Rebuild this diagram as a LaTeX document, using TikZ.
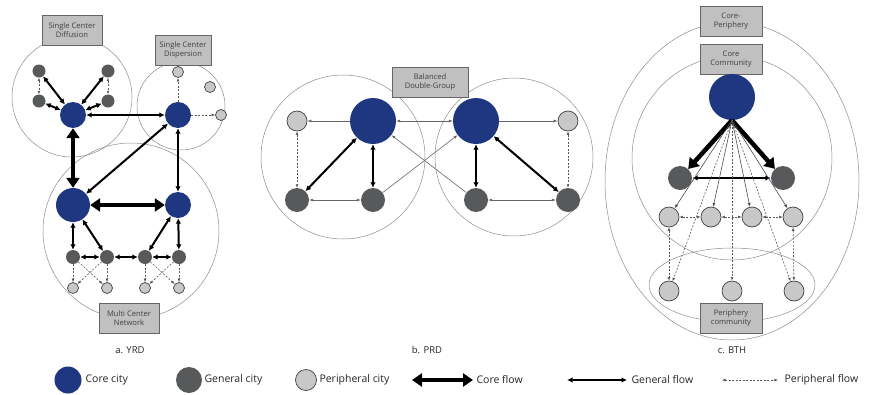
\documentclass[tikz,border=0pt]{standalone}
\usepackage{fontspec}
\setmainfont{Open Sans}
\usetikzlibrary{arrows.meta}
\definecolor{coreblue}{RGB}{31,55,128}
\definecolor{gencol}{RGB}{88,89,91}
\definecolor{percol}{RGB}{200,200,200}
\definecolor{tagcol}{RGB}{192,192,192}
\tikzset{
 core/.style={circle,fill=coreblue,inner sep=0pt,minimum size=#1},
 gen/.style={circle,fill=gencol,inner sep=0pt,minimum size=#1},
 per/.style={circle,fill=percol,draw=black!75,line width=0.7pt,inner sep=0pt,minimum size=#1},
 group/.style={draw=black!45,line width=0.5pt},
 tag/.style={draw=black!60,fill=tagcol,line width=0.7pt,text=black!75,align=center,
   font=\fontsize{7.6}{9.5}\selectfont,minimum width=#1,minimum height=30pt,inner sep=1pt},
 tag/.default=60pt,
 coreflow/.style={line width=4.5pt,{Triangle[length=10pt,width=13pt]}-{Triangle[length=10pt,width=13pt]}},
 coreto/.style={line width=4.5pt,-{Triangle[length=10pt,width=13pt]}},
 genflow/.style={line width=2pt,{Latex[length=5.5pt,width=5.5pt]}-{Latex[length=5.5pt,width=5.5pt]}},
 thinflow/.style={line width=0.6pt,draw=black!60,{Latex[length=4pt,width=3pt]}-{Latex[length=4pt,width=3pt]}},
 thinto/.style={line width=0.6pt,draw=black!60,-{Latex[length=4pt,width=3pt]}},
 perflow/.style={line width=0.6pt,draw=black!65,dash pattern=on 2pt off 1.5pt,
   {Latex[length=3.5pt,width=2.8pt]}-{Latex[length=3.5pt,width=2.8pt]}},
 perto/.style={line width=0.6pt,draw=black!65,dash pattern=on 2pt off 1.5pt,-{Latex[length=3.5pt,width=2.8pt]}},
 caption/.style={text=black!85,font=\fontsize{9.5}{11}\selectfont},
 key/.style={anchor=west,text=black!85,font=\fontsize{10.5}{12}\selectfont}
}
\begin{document}
\begin{tikzpicture}[x=1pt,y=-1pt]
\useasboundingbox (0,0) rectangle (873,394);

% a. YRD
\draw[group] (72,97) circle [radius=60pt];
\draw[group] (181,106) circle [radius=44pt];
\draw[group] (131,231) circle [radius=88pt];
\node[tag] (diffusion) at (72,30) {Single Center\\Diffusion};
\node[tag=56pt] (dispersion) at (183,50) {Single Center\\Dispersion};
\node[tag] (multi) at (129,318) {Multi Center\\Network};

\node[core=26pt] (dc) at (73,115) {};
\node[gen=13pt] (dg1) at (39,71) {};
\node[gen=13pt] (dg2) at (108,71) {};
\node[gen=13pt] (dg3) at (39,101) {};
\node[gen=13pt] (dg4) at (108,101) {};
\node[core=26pt] (sc) at (178,115) {};
\node[per=11pt] (sp1) at (178,72) {};
\node[per=11pt] (sp2) at (210,87) {};
\node[per=11pt] (sp3) at (221,115) {};
\node[core=34pt] (mc1) at (73,205) {};
\node[core=26pt] (mc2) at (178,205) {};
\foreach \i/\x in {1/73,2/107,3/145,4/179}{
 \node[gen=14pt] (mg\i) at (\x,257) {};
 \node[per=11pt] (mp\i) at (\x,288) {};
}

\foreach \n in {dg1,dg2,dg3,dg4} \draw[genflow] (dc) -- (\n);
\draw[perflow] (dg1) -- (dg3);
\draw[perflow] (dg2) -- (dg4);
\draw[genflow] (dc) -- (sc);
\draw[perto] (sc) -- (sp1);
\draw[perto] (sc) -- (sp3);
\draw[coreflow] (mc1) -- (dc);
\draw[genflow] (mc1) -- (sc);
\draw[genflow] (sc) -- (mc2);
\draw[coreflow] (mc1) -- (mc2);
\draw[genflow] (mc1) -- (mg1);
\draw[genflow] (mc1) -- (mg2);
\draw[genflow] (mc2) -- (mg3);
\draw[genflow] (mc2) -- (mg4);
\draw[genflow] (mg1) -- (mg2);
\draw[genflow] (mg2) -- (mg3);
\draw[genflow] (mg3) -- (mg4);
\foreach \i in {1,2,3,4} \draw[perto] (mg\i) -- (mp\i);
\draw[perto] (mg1) -- (mp2);
\draw[perto] (mg2) -- (mp1);
\draw[perto] (mg3) -- (mp4);
\draw[perto] (mg4) -- (mp3);

% b. PRD
\draw[group] (343,157) circle [radius=82pt];
\draw[group] (514,157) circle [radius=79pt];
\node[tag=76pt] (balanced) at (430,82) {Balanced\\Double-Group};

\node[core=46pt] (lc) at (373,121) {};
\node[core=46pt] (rc) at (476,121) {};
\node[per=20pt] (lp) at (297,121) {};
\node[per=20pt] (rp) at (568,121) {};
\node[gen=24pt] (lg1) at (297,200) {};
\node[gen=24pt] (lg2) at (373,200) {};
\node[gen=24pt] (rg1) at (476,200) {};
\node[gen=24pt] (rg2) at (568,200) {};

\draw[thinto] (lc) -- (lp);
\draw[thinto] (rc) -- (rp);
\draw[perflow] (lp) -- (lg1);
\draw[perflow] (rp) -- (rg2);
\draw[genflow] (lc) -- (lg1);
\draw[genflow] (lc) -- (lg2);
\draw[genflow] (rc) -- (rg1);
\draw[genflow] (rc) -- (rg2);
\draw[thinflow] (lg1) -- (lg2);
\draw[thinflow] (rg1) -- (rg2);
\draw[thinflow] (lc) -- (rc);
\draw[thinto] (lg2) -- (rc);
\draw[thinto] (rg1) -- (lc);

% c. BTH
\draw[group] (732,181) ellipse [x radius=127pt,y radius=159pt];
\draw[group] (732,158) ellipse [x radius=100pt,y radius=102pt];
\draw[group] (732,285) ellipse [x radius=83pt,y radius=37pt];
\node[tag=62pt] (coreper) at (731,21) {Core-\\Periphery};
\node[tag=62pt] (corecom) at (731,59) {Core\\Community};
\node[tag=62pt] (percom) at (731,318) {Periphery\\community};

\node[core=46pt] (cc) at (732,97) {};
\node[gen=24pt] (cg1) at (680,178) {};
\node[gen=24pt] (cg2) at (783,178) {};
\foreach \i/\x in {1/669,2/711,3/752,4/793} \node[per=20pt] (cp\i) at (\x,217) {};
\foreach \i/\x in {1/669,2/732,3/794} \node[per=20pt] (cb\i) at (\x,291) {};

\draw[coreto] (cc.south) -- (cg1);
\draw[coreto] (cc.south) -- (cg2);
\draw[genflow] (cg1) -- (cg2);
\foreach \i in {1,2,3,4} \draw[thinto,draw=black!70] (cc.south) -- (cp\i);
\foreach \i in {1,2,3} \draw[perto] (cc.south) -- (cb\i);
\draw[perflow] (cp1) -- (cp2);
\draw[perflow] (cp2) -- (cp3);
\draw[perflow] (cp3) -- (cp4);
\draw[perflow] (cp1) -- (cb1);
\draw[perflow] (cp4) -- (cb3);

% captions
\node[caption] (capa) at (130,350) {a. YRD};
\node[caption] (capb) at (427,350) {b. PRD};
\node[caption] (capc) at (732,350) {c. BTH};

% legend
\node[core=27pt] (kcore) at (68,380) {};
\node[key] (tcore) at (82,380) {Core city};
\node[gen=26pt] (kgen) at (189,380) {};
\node[key] (tgen) at (201,380) {General city};
\node[per=21pt] (kper) at (306,380) {};
\node[key] (tper) at (316,380) {Peripheral city};
\coordinate (cfa) at (412,380);
\coordinate (cfb) at (473,380);
\draw[coreflow] (cfa) -- (cfb);
\node[key] (tcf) at (473,380) {Core flow};
\coordinate (gfa) at (567,380);
\coordinate (gfb) at (627,380);
\draw[genflow,line width=1.5pt] (gfa) -- (gfb);
\node[key] (tgf) at (628,380) {General flow};
\coordinate (pfa) at (722,380);
\coordinate (pfb) at (778,380);
\draw[perflow] (pfa) -- (pfb);
\node[key] (tpf) at (781,380) {Peripheral flow};
\end{tikzpicture}
\end{document}
